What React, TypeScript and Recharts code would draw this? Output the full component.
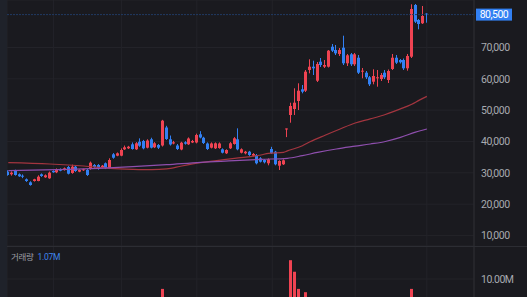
import React from 'react';
import { ComposedChart, Bar, Line, XAxis, YAxis, CartesianGrid, ReferenceLine } from 'recharts';

// ---- data ----
const opens = [
  30360, 29530, 30680, 29530, 29080, 27930, 26970, 27390, 27390, 29530,
  28570, 28250, 30580, 30170, 31120, 30900, 31860, 29940, 31950, 30360,
  30800, 30900, 31220, 32500, 32500, 31760, 33040, 31440, 35910, 35470,
  35470, 37500, 37820, 39100, 37500, 39930, 40150, 38020, 40700, 38150,
  38880, 38720, 44460, 40700, 39360, 38720, 37440, 39740, 39100, 39680,
  39680, 42290, 41200, 39360, 38020, 37820, 37920, 37500, 36230, 37820,
  39200, 40700, 36420, 36230, 36740, 35470, 35690, 34630, 34090, 33040,
  37600, 36740, 32270, 32720, 44150, 48450, 50370, 52920, 56660, 56210,
  62820, 63870, 59400, 65470, 63870, 63870, 70250, 69200, 67930, 69940,
  64960, 67830, 64640, 66740, 62280, 61960, 60490, 59080, 60170, 59940,
  61960, 59630, 63140, 66740, 66010, 66010, 63360, 67060, 83570, 78780,
  77730, 80800,
];
const highs = [
  30800, 30450, 31000, 29800, 29500, 28200, 27300, 28100, 29200, 29800,
  29500, 30400, 30800, 31400, 31400, 31700, 32200, 32600, 32300, 31100,
  31300, 31200, 33600, 32800, 32800, 32500, 33300, 34630, 36300, 36500,
  37800, 38700, 38600, 39700, 39800, 41000, 40500, 40700, 41200, 39800,
  39200, 46900, 45000, 41900, 40200, 39200, 39900, 40100, 41300, 40500,
  42500, 43300, 41500, 39700, 39700, 39700, 39700, 37800, 37500, 39800,
  41400, 44200, 37800, 37000, 37000, 36300, 36000, 35000, 34400, 34600,
  38300, 37000, 34000, 34300, 44150, 52380, 56980, 58570, 58030, 62820,
  66230, 65790, 65370, 66650, 66010, 69200, 71120, 70800, 69840, 73770,
  67930, 68250, 68250, 67610, 63460, 62500, 60900, 63040, 62820, 61860,
  62820, 62980, 67930, 67610, 66330, 66490, 67930, 83790, 83890, 79100,
  83250, 80920,
];
const lows = [
  29080, 29100, 29100, 28700, 28300, 27100, 25900, 27200, 27300, 28700,
  28400, 28100, 30000, 29900, 30500, 30700, 29500, 29700, 30300, 30200,
  30600, 29000, 31000, 31600, 31000, 31500, 31200, 31200, 34500, 35300,
  35300, 37300, 37600, 37400, 37300, 38300, 37500, 37800, 37800, 37900,
  37600, 38400, 40500, 38700, 39100, 37300, 37200, 39000, 38900, 39500,
  39400, 41000, 39200, 37300, 37800, 37600, 37700, 36200, 36000, 37600,
  39000, 37200, 36200, 35900, 35400, 35200, 32700, 33300, 33000, 32400,
  36000, 32400, 30900, 32500, 41400, 46000, 48450, 50050, 55380, 55800,
  61760, 61220, 58990, 63780, 63460, 63620, 68560, 67600, 67290, 64410,
  64100, 64100, 64100, 61540, 60170, 59940, 57710, 58250, 57490, 59310,
  59940, 58670, 62820, 64730, 64890, 62820, 62600, 66650, 77820, 75810,
  77500, 77920,
];
const closes = [
  29300, 30040, 29300, 28890, 28760, 27390, 26110, 27930, 28760, 28980,
  29200, 30040, 30170, 31120, 30680, 31440, 29720, 31950, 30580, 30900,
  31120, 29300, 33230, 31860, 31220, 32270, 31440, 34090, 34820, 36230,
  37280, 38140, 38330, 37600, 39420, 38650, 37820, 40310, 38020, 39420,
  38020, 46640, 40790, 39040, 39740, 37600, 39610, 39290, 40950, 40150,
  42070, 41270, 39520, 37600, 39360, 39420, 39360, 36420, 37280, 39420,
  41020, 37500, 37500, 36740, 35690, 36010, 33040, 33550, 33360, 34310,
  36230, 32720, 33770, 33990, 44150, 51330, 52380, 56210, 55890, 62280,
  63870, 63360, 64730, 64410, 64410, 68980, 68980, 68150, 69200, 64960,
  67510, 64640, 67830, 61960, 62600, 60490, 58250, 60900, 60490, 61220,
  60490, 62500, 66740, 65150, 65280, 63360, 67290, 82290, 78240, 77500,
  80060, 80500,
];
// volume in millions of shares
const volumes = [
  0.42, 0.35, 0.51, 0.33, 0.29, 0.46, 0.58, 0.40, 0.62, 0.31, 0.28,
  0.74, 0.30, 0.55, 0.27, 0.36, 0.88, 0.95, 0.60, 0.32, 0.25,
  0.47, 1.35, 0.52, 0.48, 0.33, 0.61, 1.80, 1.42, 0.96, 1.60,
  0.85, 0.72, 0.90, 1.12, 1.05, 0.98, 1.10, 1.24, 0.70, 0.66,
  7.0, 3.10, 1.40, 0.62, 0.75, 0.92, 0.48, 1.20, 0.55, 1.45,
  1.30, 0.88, 0.95, 0.70, 0.65, 0.60, 0.82, 0.58, 0.90, 1.35,
  2.40, 0.85, 0.50, 0.62, 0.45, 1.15, 0.70, 0.55, 0.68, 1.20,
  1.50, 0.80, 0.72, 3.60, 15.7, 12.2, 7.0, 3.80, 6.0, 3.40,
  2.60, 3.20, 1.90, 1.40, 2.80, 2.10, 1.60, 1.50, 2.90, 1.80,
  1.70, 1.60, 2.00, 1.10, 1.20, 1.40, 1.30, 1.00, 0.95, 1.05,
  1.25, 2.40, 1.30, 0.85, 1.15, 1.90, 7.0, 4.20, 2.10, 2.30, 1.07,
];
// moving averages, read at sampled candles
const maShortIdx = [0, 11, 20, 27, 33, 38, 42, 46, 51, 60, 67, 69, 73, 74, 78, 80, 84, 88, 92, 96, 100, 104, 107, 109, 111];
const maShortVal = [33230, 32810, 32180, 31440, 31120, 30990, 31250, 32170, 33230, 34630, 35690, 36230, 36550, 37000, 38650, 39900, 42000, 44000, 45900, 47200, 48600, 50400, 51900, 53200, 54400];
const maLongIdx = [0, 16, 24, 33, 42, 51, 60, 67, 74, 78, 82, 87, 92, 96, 100, 104, 108, 111];
const maLongVal = [30680, 31120, 31440, 31950, 32590, 33360, 33870, 34310, 34630, 35500, 36500, 37600, 38500, 39200, 40000, 41300, 43000, 44000];

const priceTicks = [10000, 20000, 30000, 40000, 50000, 60000, 70000];
const volumeTicks = [10];
const gridIndices = [12, 30, 50, 70, 92, 111];
const lastPrice = 80500;
const volumeTitle = '거래량';
const lastVolumeLabel = '1.07M';

// ---- style ----
const UP = '#ef4352';
const DOWN = '#3280f3';
const BG = '#1a1a1f';
const GRID = '#232329';
const BORDER = '#2c2d33';
const TEXT = '#a8aab0';
const FONT = "Roboto, 'Noto Sans CJK KR', sans-serif";

const maS = new Map(maShortIdx.map((k, j) => [k, maShortVal[j]]));
const maL = new Map(maLongIdx.map((k, j) => [k, maLongVal[j]]));

const data = opens.map((o, i) => ({
  i,
  o,
  h: highs[i],
  l: lows[i],
  c: closes[i],
  range: [lows[i], highs[i]],
  vol: volumes[i],
  maS: maS.has(i) ? maS.get(i) : null,
  maL: maL.has(i) ? maL.get(i) : null,
}));

const X_DOMAIN: [number, number] = [-0.34, 123.5];

const Candle = (props: any) => {
  const { x, y, width, height, payload } = props;
  if (!payload) return null;
  const { o, h, l, c } = payload;
  const top = Math.min(y, y + height);
  const hh = Math.abs(height);
  const ratio = h - l > 0 ? hh / (h - l) : 0;
  const bTop = top + (h - Math.max(o, c)) * ratio;
  const bBot = top + (h - Math.min(o, c)) * ratio;
  const color = c >= o ? UP : DOWN;
  const cx = Math.floor(x + width / 2);
  return (
    <g>
      <rect x={cx} y={top} width={1} height={Math.max(hh, 1)} fill={color} />
      <rect x={cx - 1} y={bTop} width={3} height={Math.max(bBot - bTop, 1)} fill={color} />
    </g>
  );
};

const VolBar = (props: any) => {
  const { x, y, width, height, payload } = props;
  if (!payload) return null;
  const color = payload.c >= payload.o ? UP : DOWN;
  const cx = Math.floor(x + width / 2);
  return <rect x={cx - 1} y={Math.min(y, y + height)} width={3} height={Math.abs(height)} fill={color} />;
};

const PriceTag = (props: any) => {
  const vb = props.viewBox || {};
  const x = (vb.x || 0) + (vb.width || 0) + 2;
  const y = vb.y || 0;
  return (
    <g>
      <rect x={x} y={y - 6} width={36} height={12} fill={DOWN} />
      <text x={x + 18} y={y} dy="0.35em" textAnchor="middle" fill="#ffffff" fontSize={10.5} letterSpacing={-0.5} fontFamily={FONT}>
        {lastPrice.toLocaleString('en-US')}
      </text>
    </g>
  );
};

const tickStyle = { fill: TEXT, fontSize: 10.5, fontFamily: FONT, letterSpacing: -0.5 };

export default function App() {
  return (
    <div style={{ position: 'absolute', left: 0, top: 0, width: 527, height: 297, overflow: 'hidden', background: BG }}>
      <div style={{ position: 'absolute', left: 0, top: 0 }}>
        <ComposedChart width={527} height={246} data={data} margin={{ top: 0, right: 0, bottom: 0, left: 7 }}>
          <CartesianGrid stroke={GRID} strokeWidth={1} />
          <XAxis dataKey="i" type="number" domain={X_DOMAIN} ticks={gridIndices} hide allowDataOverflow />
          <YAxis
            orientation="right"
            width={53}
            domain={[6639, 85162]}
            ticks={priceTicks}
            allowDataOverflow
            tickLine={false}
            tickSize={0}
            tickMargin={7}
            axisLine={{ stroke: BORDER }}
            tick={tickStyle}
            tickFormatter={(v: number) => v.toLocaleString('en-US')}
          />
          <ReferenceLine y={lastPrice} stroke="#213a62" strokeDasharray="2 1" label={PriceTag} />
          <Line dataKey="maS" type="monotone" stroke="#a3353f" strokeWidth={1.2} dot={false} connectNulls isAnimationActive={false} />
          <Line dataKey="maL" type="monotone" stroke="#8f4fae" strokeWidth={1.2} dot={false} connectNulls isAnimationActive={false} />
          <Bar dataKey="range" barSize={3} shape={Candle} isAnimationActive={false} />
        </ComposedChart>
      </div>
      <div style={{ position: 'absolute', left: 0, top: 246 }}>
        <ComposedChart width={527} height={66} data={data} margin={{ top: 0, right: 0, bottom: 0, left: 7 }}>
          <CartesianGrid stroke={GRID} strokeWidth={1} />
          <XAxis dataKey="i" type="number" domain={X_DOMAIN} ticks={gridIndices} hide allowDataOverflow />
          <YAxis
            orientation="right"
            width={53}
            domain={[0, 20]}
            ticks={volumeTicks}
            tickLine={false}
            tickSize={0}
            tickMargin={7}
            axisLine={{ stroke: BORDER }}
            tick={tickStyle}
            tickFormatter={(v: number) => v.toFixed(2) + 'M'}
          />
          <Bar dataKey="vol" barSize={3} shape={VolBar} isAnimationActive={false} />
        </ComposedChart>
      </div>
      <div style={{ position: 'absolute', left: 7, top: 246, width: 520, height: 1, background: BORDER }} />
      <div style={{ position: 'absolute', left: 0, top: 0, width: 7, height: 297, background: '#1f222a' }} />
      <div style={{ position: 'absolute', left: 11, top: 251, fontFamily: FONT, fontSize: 8.5, lineHeight: '12px', whiteSpace: 'nowrap', letterSpacing: -0.3 }}>
        <span style={{ color: '#9c9ea4' }}>{volumeTitle}</span>
        <span style={{ color: '#3f86ee', marginLeft: 4 }}>{lastVolumeLabel}</span>
      </div>
    </div>
  );
}
